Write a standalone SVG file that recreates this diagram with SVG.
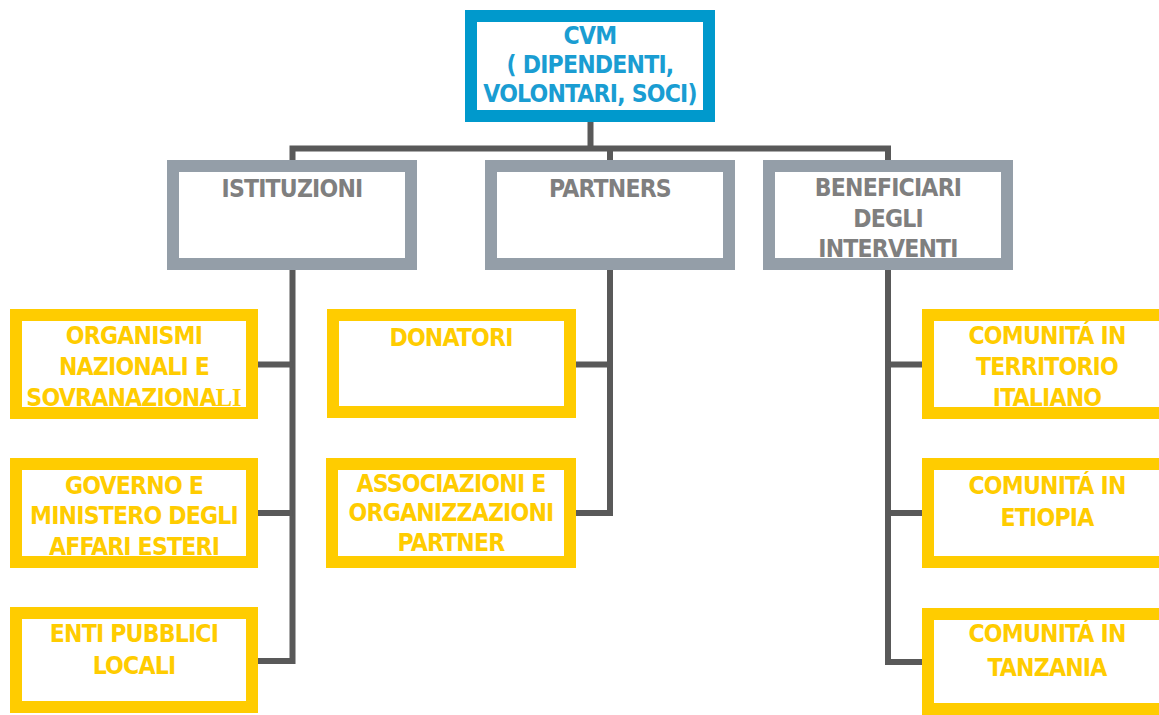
<svg xmlns="http://www.w3.org/2000/svg" width="1159" height="715" viewBox="0 0 1159 715">
<style>
.box{fill:#ffffff;stroke-width:12}
.top{stroke:#0099cc}
.mid{stroke:#949ea8}
.leaf{stroke:#ffcc00}
.conn{fill:none;stroke:#595959;stroke-width:6;stroke-linejoin:miter;stroke-linecap:butt}
text{font-family:"DejaVu Sans Condensed","DejaVu Sans",sans-serif;font-stretch:condensed;font-weight:bold;font-size:24.5px;letter-spacing:-0.8px;text-anchor:middle}
.tb{fill:#1a9dd2}
.tg{fill:#7f7f7f}
.ty{fill:#ffcc00}
.serif{font-family:"Liberation Serif",serif;font-stretch:normal;letter-spacing:0}
</style>
<rect width="1159" height="715" fill="#ffffff"/>
<g id="connectors" class="conn">
<path d="M590.5,122 V151"/>
<path d="M292.5,160 V148.5 H888 V160"/>
<path d="M610,146 V160"/>
<path d="M292.5,270 V661 H258"/>
<path d="M258,364.5 H292.5"/>
<path d="M258,513 H292.5"/>
<path d="M610,270 V513 H576"/>
<path d="M576,364.5 H610"/>
<path d="M888,270 V662 H922"/>
<path d="M888,364.5 H922"/>
<path d="M888,513 H922"/>
</g>
<g id="cvm">
<rect class="box top" x="471" y="16" width="238" height="100"/>
<text class="tb" x="590" y="44">CVM</text>
<text class="tb" x="590" y="73">( DIPENDENTI,</text>
<text class="tb" x="590" y="102">VOLONTARI, SOCI)</text>
</g>
<g id="istituzioni">
<rect class="box mid" x="173" y="166" width="238" height="98"/>
<text class="tg" x="292" y="197">ISTITUZIONI</text>
</g>
<g id="partners">
<rect class="box mid" x="491" y="166" width="238" height="98"/>
<text class="tg" x="610" y="197">PARTNERS</text>
</g>
<g id="beneficiari">
<rect class="box mid" x="769" y="166" width="238" height="98"/>
<text class="tg" x="888" y="196">BENEFICIARI</text>
<text class="tg" x="888" y="227">DEGLI</text>
<text class="tg" x="888" y="257">INTERVENTI</text>
</g>
<g id="organismi">
<rect class="box leaf" x="16" y="315" width="236" height="98"/>
<text class="ty" x="134" y="344">ORGANISMI</text>
<text class="ty" x="134" y="375">NAZIONALI E</text>
<text class="ty" x="134" y="406">SOVRANAZIONA<tspan class="serif">LI</tspan></text>
</g>
<g id="governo">
<rect class="box leaf" x="16" y="464" width="236" height="98"/>
<text class="ty" x="134" y="494">GOVERNO E</text>
<text class="ty" x="134" y="524">MINISTERO DEGLI</text>
<text class="ty" x="134" y="555">AFFARI ESTERI</text>
</g>
<g id="enti">
<rect class="box leaf" x="16" y="613" width="236" height="94"/>
<text class="ty" x="134" y="642">ENTI PUBBLICI</text>
<text class="ty" x="134" y="674">LOCALI</text>
</g>
<g id="donatori">
<rect class="box leaf" x="333" y="315" width="237" height="97"/>
<text class="ty" x="451" y="346">DONATORI</text>
</g>
<g id="associazioni">
<rect class="box leaf" x="332" y="464" width="238" height="98"/>
<text class="ty" x="451" y="492">ASSOCIAZIONI E</text>
<text class="ty" x="451" y="521">ORGANIZZAZIONI</text>
<text class="ty" x="451" y="551">PARTNER</text>
</g>
<g id="comunita-italia">
<rect class="box leaf" x="928" y="315" width="238" height="98"/>
<text class="ty" x="1047" y="344">COMUNITÁ IN</text>
<text class="ty" x="1047" y="375">TERRITORIO</text>
<text class="ty" x="1047" y="406">ITALIANO</text>
</g>
<g id="comunita-etiopia">
<rect class="box leaf" x="928" y="464" width="238" height="98"/>
<text class="ty" x="1047" y="494">COMUNITÁ IN</text>
<text class="ty" x="1047" y="526">ETIOPIA</text>
</g>
<g id="comunita-tanzania">
<rect class="box leaf" x="928" y="614" width="238" height="95"/>
<text class="ty" x="1047" y="642">COMUNITÁ IN</text>
<text class="ty" x="1047" y="676">TANZANIA</text>
</g>
</svg>
